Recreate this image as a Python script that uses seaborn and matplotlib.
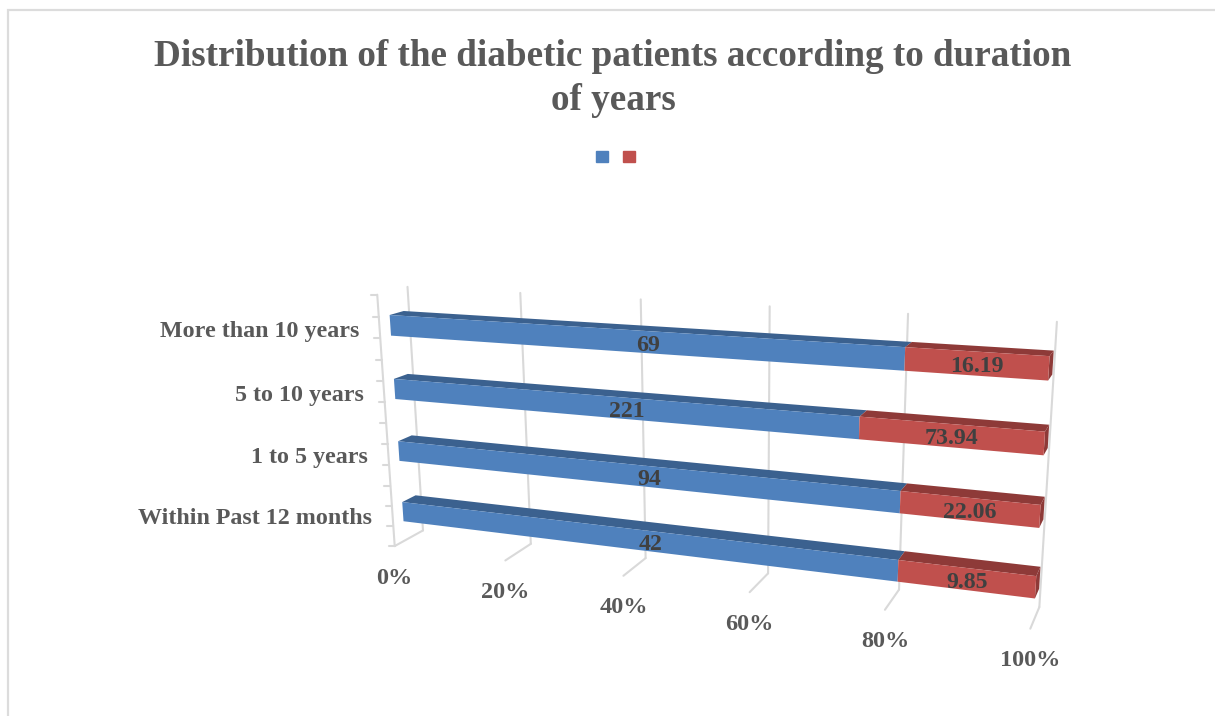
import numpy as np
import pandas as pd
import seaborn as sns
import matplotlib
matplotlib.use("Agg")
import matplotlib.pyplot as plt
from matplotlib.patches import Patch, Polygon
from matplotlib.transforms import Transform

# Patient counts per duration group, first and second series
categories = ["More than 10 years", "5 to 10 years", "1 to 5 years", "Within Past 12 months"]
series_a = [69, 221, 94, 42]
series_b = [16.19, 73.94, 22.06, 9.85]
share_ticks = [0, 20, 40, 60, 80, 100]
title = "Distribution of the diabetic patients according to duration\nof years"

BLUE, BLUE_DARK = "#4F81BD", "#3B618F"
RED, RED_DARK = "#C0504D", "#8E3A38"
GRID = "#D9D9D9"
BAR_WIDTH = 0.32
DEPTH_FRONT, DEPTH_BACK = 0.35, 0.82

# Camera calibration: plot-box corners (share, height, depth) and where they land on the canvas
box_points = np.array([
    (0, 1, 1), (0, 0, 1), (.2, 1, 1), (.2, 0, 1), (.4, 1, 1), (.4, 0, 1),
    (.8, 1, 1), (.8, 0, 1), (1, 1, 1), (1, 0, 1),
    (0, 0, 0), (0, 1, 0), (.2, 0, 0), (.4, 0, 0), (.8, 0, 0), (1, 0, 0)], float)
canvas_points = np.array([
    (407.7, 286.7), (422.7, 530.7), (520, 293), (530.7, 543.3), (640.7, 299), (646.7, 558),
    (908, 314), (898.7, 590.7), (1057, 321.7), (1039, 606.7),
    (395, 545.7), (377.3, 295), (505, 560.7), (623, 576), (885, 610), (1030.7, 628)], float)


def fit_camera(world, image):
    rows = []
    for (x, y, z), (u, v) in zip(world, image):
        rows.append([x, y, z, 1, 0, 0, 0, 0, -u * x, -u * y, -u * z, -u])
        rows.append([0, 0, 0, 0, x, y, z, 1, -v * x, -v * y, -v * z, -v])
    return np.linalg.svd(np.array(rows))[2][-1].reshape(3, 4)


CAMERA = fit_camera(box_points, canvas_points)


def project(share, height, depth):
    """Map box coordinates to canvas pixels."""
    share, height, depth = np.broadcast_arrays(share, height, depth)
    world = np.stack([share, height, depth, np.ones_like(share, dtype=float)], axis=-1)
    cam = world @ CAMERA.T
    return cam[..., :2] / cam[..., 2:]


def row_height(y):
    """Convert a categorical bar position into height inside the box."""
    return 1 - (np.asarray(y, float) + 0.5) / len(categories) - 0.004


class FrontFace(Transform):
    """Carries (percent, category position) onto the plane of the bars' front faces."""
    input_dims = output_dims = 2
    is_separable = False
    has_inverse = False

    def transform_non_affine(self, values):
        values = np.asarray(values, float)
        return project(values[:, 0] / 100, row_height(values[:, 1]), DEPTH_FRONT)


sns.set_theme(style="white")
plt.rcParams["font.family"] = ["Liberation Serif", "DejaVu Serif"]
plt.rcParams["font.weight"] = "bold"

fig = plt.figure(figsize=(12.15, 7.16), dpi=100, facecolor="white")
canvas = fig.add_axes([0, 0, 1, 1])
canvas.set_xlim(0, 1215)
canvas.set_ylim(716, 0)
canvas.axis("off")

bars_ax = fig.add_axes([0, 0, 1, 1], facecolor="none")
bars_ax.axis("off")

# Chart frame
canvas.plot([8, 8, 1215], [716, 10, 10], color="#DCDCDC", lw=1.6, solid_joinstyle="miter")

# Back wall and floor gridlines
for tick in share_ticks:
    s = tick / 100
    canvas.plot(*project([s, s], [0, 1], 1).T, color=GRID, lw=1.5, zorder=1)
    canvas.plot(*project([s, s], 0, [0, 1]).T, color=GRID, lw=1.5, zorder=1)
    x, y = project(s, 0, 0)
    canvas.text(x, y + 32, f"{tick}%", ha="center", va="center", fontsize=17.5,
                color="#595959", fontweight="bold")

# Side wall edge and its ticks
canvas.plot(*project([0, 0], [0, 1], 0).T, color=GRID, lw=1.5, zorder=1)
for h in np.arange(13) / 12:
    x, y = project(0, h, 0)
    canvas.plot([x - 6, x], [y, y], color=GRID, lw=1.5, zorder=1)

# Horizontal 100% stacked bars, built from the two series
data = pd.DataFrame({"category": categories, "a": series_a, "b": series_b})
totals = data["a"] + data["b"]
data["share_a"] = data["a"] / totals * 100
data["share_b"] = data["b"] / totals * 100

sns.barplot(data=data, x="share_a", y="category", order=categories, color=BLUE, saturation=1,
            width=BAR_WIDTH, errorbar=None, ax=bars_ax, linewidth=0)
sns.barplot(data=data, x="share_b", y="category", order=categories, color=RED, saturation=1,
            width=BAR_WIDTH, errorbar=None, ax=bars_ax, linewidth=0, left=data["share_a"].to_numpy())
bars_ax.axis("off")

front_face = FrontFace() + canvas.transData
n = len(categories)
for i, patch in enumerate(bars_ax.patches):
    patch.set_transform(front_face)
    patch.set_clip_on(False)
    patch.set_zorder(3)
    left = patch.get_x() / 100
    right = left + patch.get_width() / 100
    top = float(row_height(patch.get_y()))
    bottom = float(row_height(patch.get_y() + patch.get_height()))
    dark = BLUE_DARK if i < n else RED_DARK
    lid = project([left, right, right, left], top,
                  [DEPTH_FRONT, DEPTH_FRONT, DEPTH_BACK, DEPTH_BACK])
    canvas.add_patch(Polygon(lid, closed=True, facecolor=dark, edgecolor="none", zorder=2))
    if i >= n:
        cap = project(right, [top, top, bottom, bottom],
                      [DEPTH_FRONT, DEPTH_BACK, DEPTH_BACK, DEPTH_FRONT])
        canvas.add_patch(Polygon(cap, closed=True, facecolor=dark, edgecolor="none", zorder=2))
canvas.set_zorder(bars_ax.get_zorder() - 1)

# Value labels and category labels live above the bars
labels_ax = fig.add_axes([0, 0, 1, 1], facecolor="none", sharex=canvas, sharey=canvas)
labels_ax.set_xlim(0, 1215)
labels_ax.set_ylim(716, 0)
labels_ax.axis("off")
for k, cat in enumerate(categories):
    h = float(row_height(k))
    a_share = data.loc[k, "share_a"] / 100
    # Value labels sit at the on-screen middle of each segment
    for s0, s1, value in ((0, a_share, series_a[k]), (a_share, 1, series_b[k])):
        x, y = project([s0, s1], h, DEPTH_FRONT).mean(axis=0)
        labels_ax.text(x, y + 3, f"{value}", ha="center", va="center", fontsize=17.2,
                       color="#404040", fontweight="bold")
    x, y = project(0, h, DEPTH_FRONT)
    labels_ax.text(x - 31, y + 6.5, cat, ha="right", va="center", fontsize=17.3,
                   color="#595959", fontweight="bold")

fig.text(613 / 1215, 1 - 78.5 / 716, title, ha="center", va="center", fontsize=26.75,
         color="#595959", fontweight="bold", linespacing=1.31)

# Legend keeps its two swatches; the series carry no names
fig.legend(handles=[Patch(color=BLUE), Patch(color=RED)], labels=["", ""], ncol=2,
           loc="center", bbox_to_anchor=(615.5 / 1215, 1 - 158 / 716), frameon=False,
           handlelength=0.75, handleheight=0.75, handletextpad=0.0, columnspacing=0.94,
           fontsize=11.52)

fig.savefig("out.png", dpi=100, facecolor="white")
